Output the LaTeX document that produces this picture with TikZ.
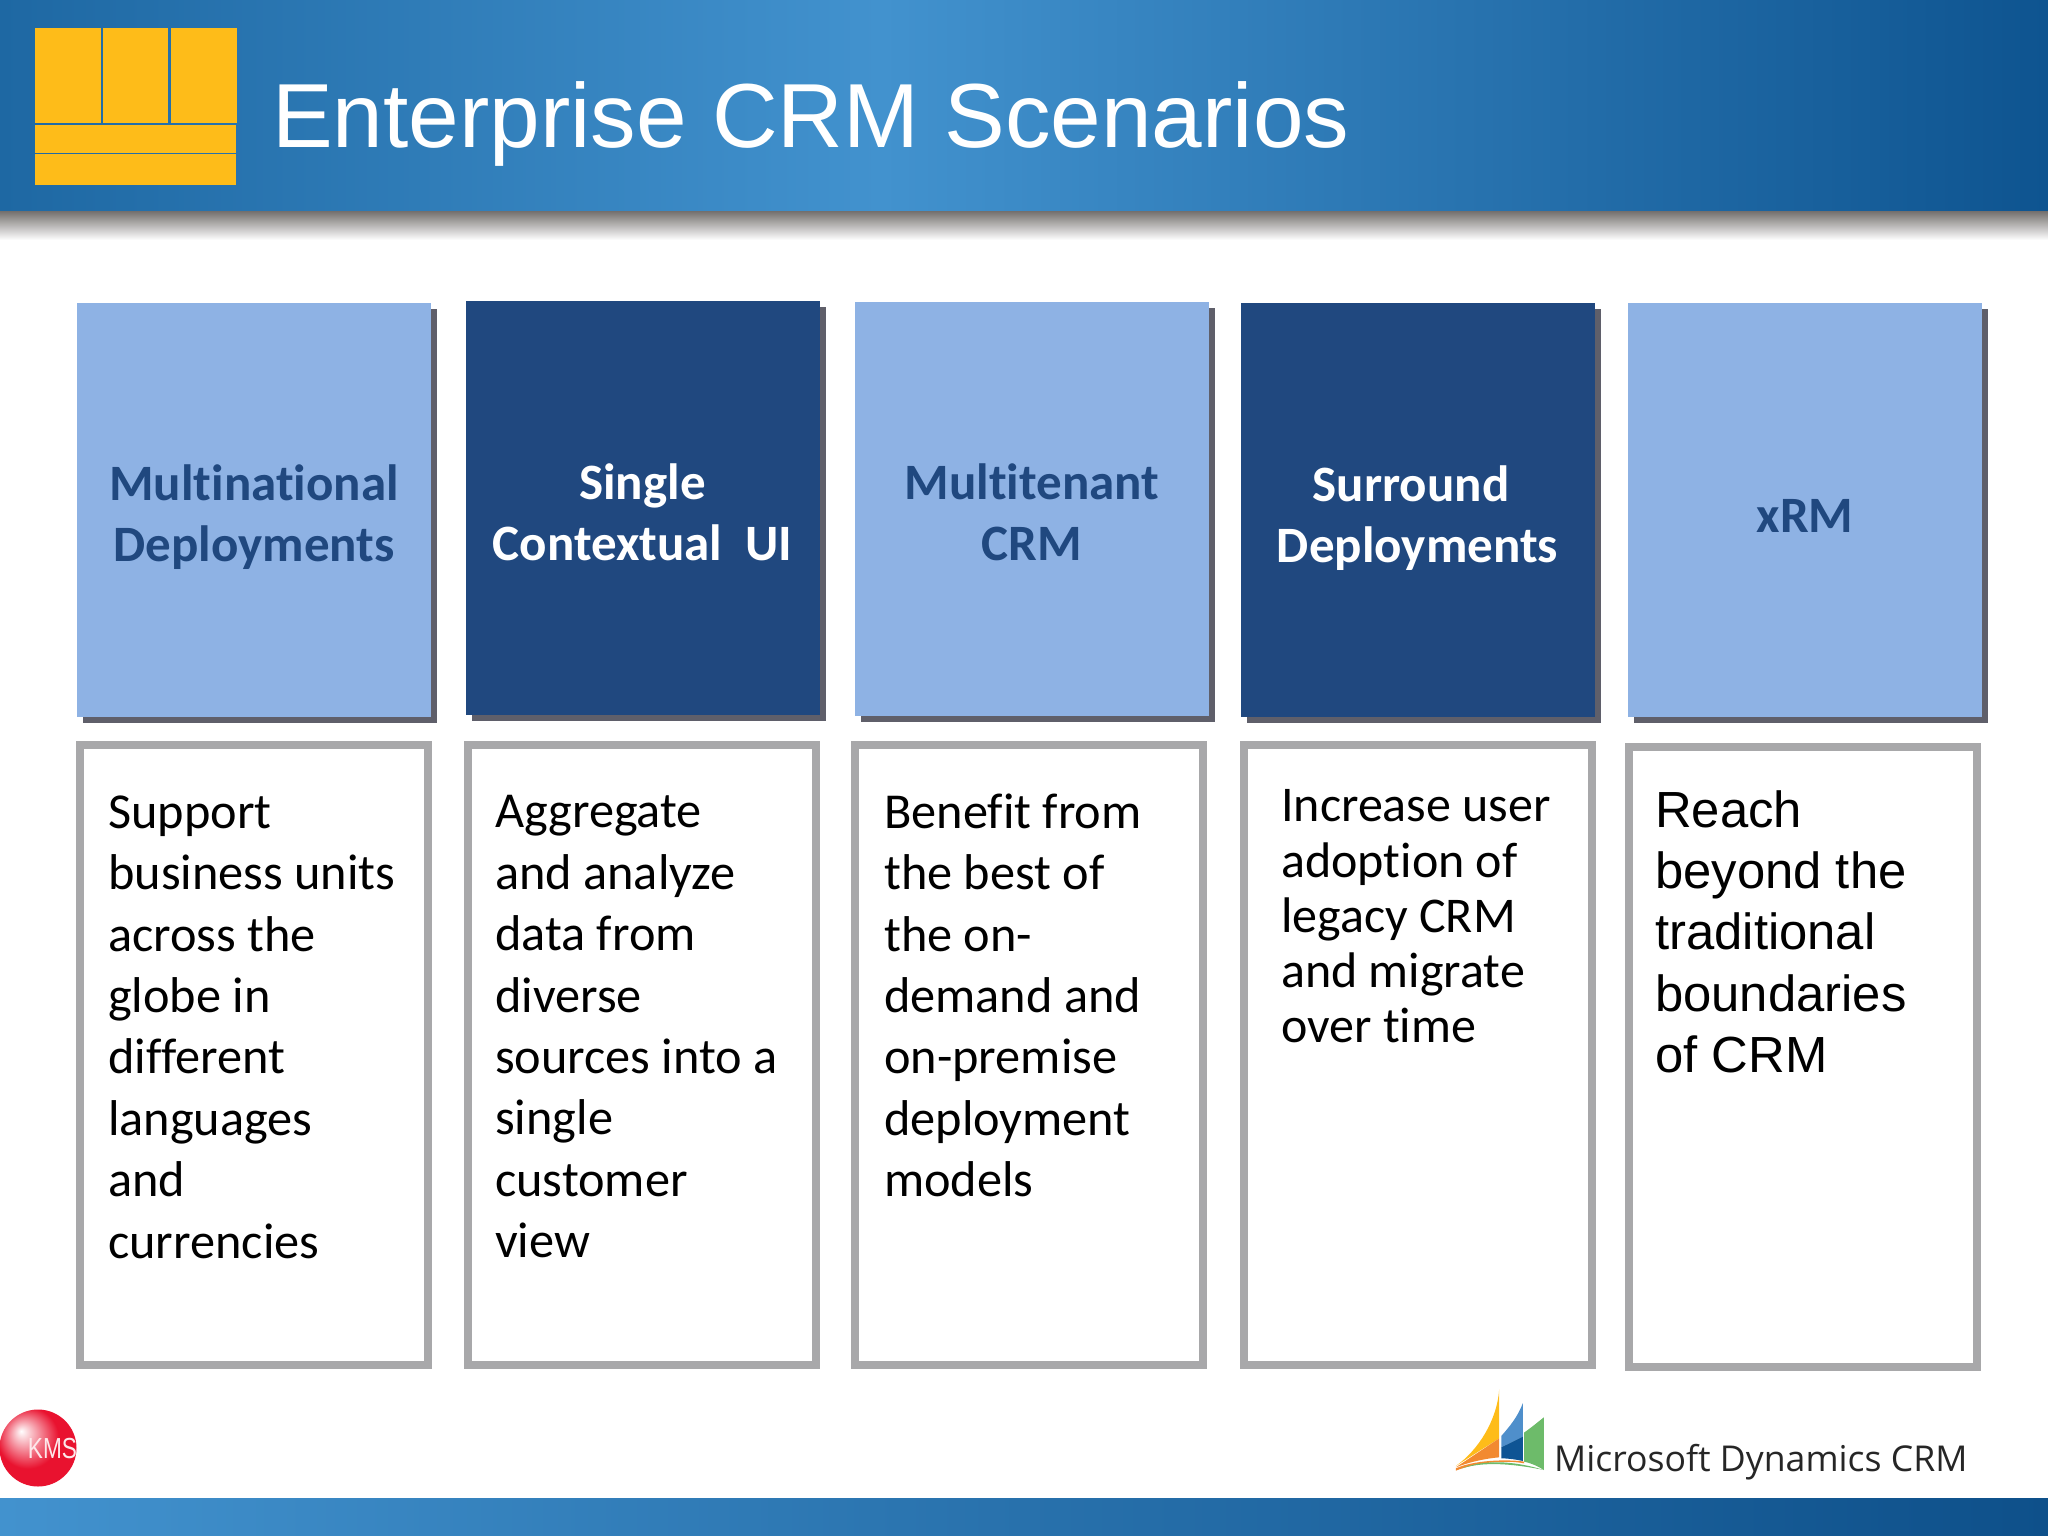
\documentclass[tikz,border=0pt]{standalone}
\usepackage{fontspec}
\setmainfont[Ligatures=NoCommon]{Carlito}
\newfontfamily\arialfont{Liberation Sans}
\newfontfamily\logofont{Open Sans}
\usetikzlibrary{shadows}

\definecolor{headlight}{HTML}{8EB2E4}
\definecolor{headdark}{HTML}{20487F}
\definecolor{boxgray}{HTML}{A8A8AA}
\definecolor{shadowgray}{HTML}{5F5F6A}
\definecolor{logoyellow}{HTML}{FEBC19}
\definecolor{bannerleft}{HTML}{1E68A3}
\definecolor{bannermid}{HTML}{4292CE}
\definecolor{bannerright}{HTML}{0E5490}
\definecolor{footright}{HTML}{0E508A}
\definecolor{rimgray}{HTML}{6E6A68}
\definecolor{kmsred}{HTML}{E9122F}
\definecolor{sailorange}{HTML}{F28A30}
\definecolor{sailblue}{HTML}{4F8FCB}
\definecolor{saildeep}{HTML}{0E5494}
\definecolor{sailgreen}{HTML}{6DBB6A}
\pgfdeclarehorizontalshading{bannerfade}{100bp}{
  color(0bp)=(bannerleft);
  color(25bp)=(bannerleft);
  color(46.5bp)=(bannermid);
  color(75bp)=(bannerright);
  color(100bp)=(bannerright)}
\pgfdeclarehorizontalshading{footfade}{100bp}{
  color(0bp)=(bannermid);
  color(25bp)=(bannermid);
  color(75bp)=(footright);
  color(100bp)=(footright)}
\pgfdeclareradialshading{kmsball}{\pgfpoint{-11bp}{11bp}}{
  color(0bp)=(white);
  color(11bp)=(kmsred!55!white);
  color(20bp)=(kmsred);
  color(50bp)=(kmsred)}

\tikzset{
  headbox/.style={rectangle, inner sep=0, minimum width=354, minimum height=414,
    drop shadow={shadow xshift=6pt, shadow yshift=-6pt, fill=shadowgray, opacity=1}},
  lightbox/.style={headbox, fill=headlight},
  darkbox/.style={headbox, fill=headdark},
  headtext/.style={inner sep=0, align=center, font=\fontsize{51}{61}\selectfont\bfseries},
  bodybox/.style={rectangle, draw=boxgray, line width=8, fill=white,
    minimum width=348, minimum height=620},
  bodytext/.style={anchor=north west, inner sep=0, align=left, text=black,
    font=\fontsize{50.3}{61.4}\selectfont},
  plank/.style={fill=logoyellow, draw=none}
}

\begin{document}
\begin{tikzpicture}[x=1pt,y=-1pt]
  \useasboundingbox (0,0) rectangle (2048,1536);
  % Banners
  \shade[top color=rimgray, bottom color=white] (0,210) rectangle (2048,240);
  \shade[shading=bannerfade] (0,0) rectangle (2048,210);
  \shade[shading=footfade] (0,1498) rectangle (2048,1536);
  % Title logo
  \foreach \x/\xx in {35/101, 103/168, 171/237}
    \fill[plank] (\x,28) rectangle (\xx,123);
  \fill[plank] (35,125) rectangle (236,153);
  \fill[plank] (35,154) rectangle (236,185);
  \node[anchor=base west, inner sep=0, text=white, font=\arialfont\fontsize{91}{91}\selectfont]
    (title) at (272,148) {Enterprise CRM Scenarios};
  % Top boxes
  \foreach \name/\xc/\yc/\sty/\col/\dy/\txt in {
    multinational/254/510/lightbox/headdark/7.3/{Multinational\\Deployments},
    contextual/642.5/507.5/darkbox/white/4.7/{Single\\Contextual\ \ UI},
    multitenant/1032/508.5/lightbox/headdark/3.4/{Multitenant\\CRM},
    surround/1417.5/510/darkbox/white/8.6/{Surround\hspace*{13pt}\\Deployments},
    xrm/1805/510/lightbox/headdark/6/{xRM}}{
    \node[\sty] (\name) at (\xc,\yc) {};
    \node[headtext, text=\col] (\name text) at ([yshift=-\dy pt]\name.center) {\txt};
  }
  % Lower boxes
  \foreach \name/\xc/\yc in {
    boxa/254/1055, boxb/642/1055, boxc/1028.5/1054.5, boxd/1418/1054.5, boxe/1803/1056.5}
    \node[bodybox] (\name) at (\xc,\yc) {};
  \node[bodytext] (texta) at (108,795.5) {Support\\business units\\across the\\globe in\\different\\languages\\and\\currencies};
  \node[bodytext] (textb) at (495,795.5) {Aggregate\\and analyze\\data from\\diverse\\sources into a\\single\\customer\\view};
  \node[bodytext] (textc) at (884,793.5) {Benefit from\\the best of\\the on-\\demand and\\on-premise\\deployment\\models};
  \node[bodytext, font=\fontsize{50}{55.3}\selectfont] (textd) at (1281,789.5) {Increase user\\adoption of\\legacy CRM\\and migrate\\over time};
  \node[bodytext, font=\arialfont\fontsize{50.8}{61.4}\selectfont] (texte) at (1655,790) {Reach\\beyond the\\traditional\\boundaries\\of CRM};
  % Red ball
  \shade[shading=kmsball] (38,1448) circle (38.5);
  \node[inner sep=0, text=white!90!kmsred, transform shape, xscale=.78, font=\arialfont\fontsize{29}{29}\selectfont]
    (kms) at (52.5,1449) {KMS};
  % Sails
  \begin{scope}[shift={(1400,1360)},x=.4133pt,y=-.3333pt]
    \fill[logoyellow] (240,88) .. controls (235,180) and (190,270) .. (135,318) -- (240,235) -- cycle;
    \fill[sailorange] (240,235) -- (135,322) .. controls (170,305) and (210,295) .. (240,292) -- cycle;
    \fill[sailblue] (297,130) .. controls (285,170) and (265,200) .. (245,228) -- (245,262) -- (297,230) -- cycle;
    \fill[saildeep] (245,262) -- (297,230) -- (297,303) .. controls (280,298) and (260,295) .. (245,295) -- cycle;
    \fill[sailgreen] (348,172) .. controls (330,190) and (315,205) .. (300,218) -- (300,305) .. controls (320,310) and (335,320) .. (348,330) -- cycle;
    \fill[sailorange] (135,325) .. controls (190,295) and (280,300) .. (300,305) -- (300,310) .. controls (260,300) and (190,305) .. (135,332) -- cycle;
    \fill[sailgreen] (150,325) .. controls (200,300) and (270,300) .. (348,330) .. controls (270,310) and (200,305) .. (150,325) -- cycle;
  \end{scope}
  \node[anchor=base west, inner sep=0, text=black!85, font=\logofont\fontsize{35.6}{36}\selectfont]
    (dynamics) at (1554,1471) {Microsoft Dynamics CRM};
\end{tikzpicture}
\end{document}
